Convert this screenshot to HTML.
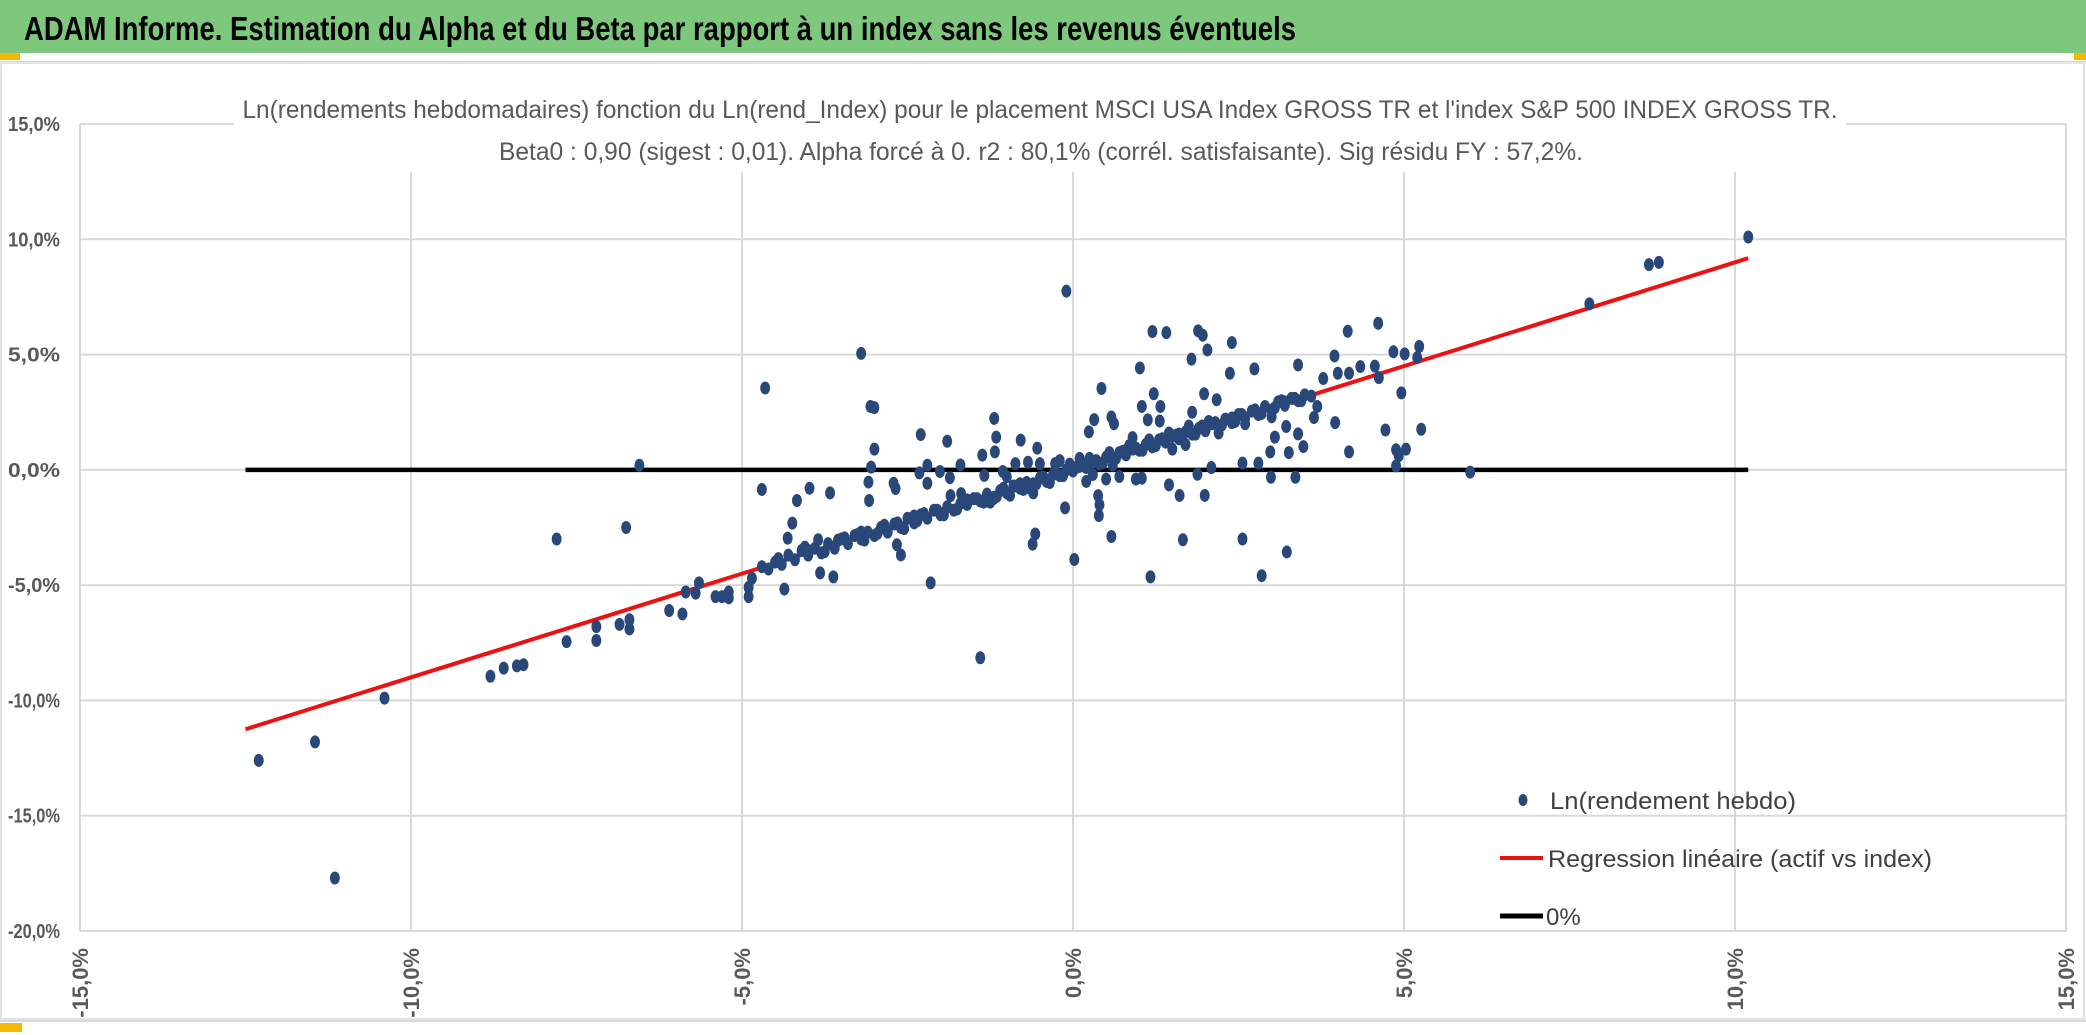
<!DOCTYPE html>
<html><head><meta charset="utf-8"><style>
html,body{margin:0;padding:0;background:#fff;}
svg{display:block;font-family:"Liberation Sans",sans-serif;}
</style></head><body>
<svg id="chart" width="2086" height="1035" viewBox="0 0 2086 1035">
<rect x="0" y="0" width="2086" height="1035" fill="#fff"/>
<rect x="0" y="0" width="2086" height="53" fill="#7ec87e"/>
<text x="24" y="40" font-size="33" font-weight="bold" fill="#000" textLength="1272" lengthAdjust="spacingAndGlyphs">ADAM Informe. Estimation du Alpha et du Beta par rapport à un index sans les revenus éventuels</text>
<rect x="0" y="53" width="20" height="7" fill="#f5b800"/>
<rect x="2074" y="53" width="12" height="7" fill="#f5b800"/>
<rect x="0" y="61" width="2086" height="2" fill="#d9d9d9"/>
<rect x="1" y="63" width="2083" height="956" fill="none" stroke="#e2e2e2" stroke-width="2"/>
<rect x="0" y="1020" width="2086" height="2" fill="#d9d9d9"/>
<rect x="0" y="1023" width="22" height="9" fill="#f5b800"/>
<g id="grid"></g>
<rect x="234" y="68" width="1612" height="104" fill="#fff"/>
<text x="1040" y="118" font-size="25" fill="#595959" text-anchor="middle" textLength="1595" lengthAdjust="spacingAndGlyphs">Ln(rendements hebdomadaires) fonction du Ln(rend_Index) pour le placement MSCI USA Index GROSS TR et l'index S&amp;P 500 INDEX GROSS TR.</text>
<text x="1041" y="160" font-size="25" fill="#595959" text-anchor="middle" textLength="1084" lengthAdjust="spacingAndGlyphs">Beta0 : 0,90 (sigest : 0,01). Alpha forcé à 0. r2 : 80,1% (corrél. satisfaisante). Sig résidu FY : 57,2%.</text>
<g id="lines"></g>
<g id="points"></g>
<g id="legend">
<ellipse cx="1523" cy="800" rx="4.5" ry="6" fill="#2a4779"/>
<text x="1550" y="809" font-size="24" fill="#404040" textLength="246" lengthAdjust="spacingAndGlyphs">Ln(rendement hebdo)</text>
<line x1="1500" y1="858" x2="1543" y2="858" stroke="#ee1111" stroke-width="4"/>
<text x="1548" y="867" font-size="24" fill="#404040" textLength="384" lengthAdjust="spacingAndGlyphs">Regression linéaire (actif vs index)</text>
<line x1="1500" y1="916" x2="1543" y2="916" stroke="#000" stroke-width="5"/>
<text x="1546" y="925" font-size="24" fill="#404040">0%</text>
</g>
</svg>
<script>
const xTicks = [-15, -10, -5, 0, 5, 10, 15];
const yTicks = [-20, -15, -10, -5, 0, 5, 10, 15];
const xTickLabels = ["-15,0%", "-10,0%", "-5,0%", "0,0%", "5,0%", "10,0%", "15,0%"];
const yTickLabels = ["-20,0%", "-15,0%", "-10,0%", "-5,0%", "0,0%", "5,0%", "10,0%", "15,0%"];
const beta = 0.90;
const lineRange = [-12.5, 10.2];
const ptsX = [10.2,8.7,8.85,7.8,-0.1,-3.2,-4.65,-3.0,-3.0,-6.55,-4.7,-7.8,-6.75,-12.3,-11.45,-11.15,-10.4,-8.8,-8.6,-8.4,-8.3,-7.65,-7.2,-7.2,-6.85,-6.7,-6.7,-6.1,-5.9,-5.85,-5.7,-5.65,-5.4,-5.3,-5.2,-5.2,-4.9,-4.9,-4.85,-4.7,-1.4,-2.15,6.0,
-3.06,-3.05,-3.09,-3.08,-3.98,-4.17,-3.67,-4.24,-4.31,-3.85,-4.36,-2.3,-1.9,-1.19,-1.16,-1.18,-1.37,-0.79,-0.54,-0.57,-0.61,-0.12,0.02,0.43,0.58,0.62,0.32,0.24,1.01,1.2,1.41,1.89,1.96,2.03,1.79,2.4,1.22,1.04,1.32,1.31,1.13,0.58,0.39,0.4,0.38,0.7,0.95,1.04,1.17,1.66,1.61,1.45,1.99,1.88,2.09,2.56,2.85,3.23,2.99,3.36,2.56,2.8,2.98,3.26,3.48,3.4,3.05,3.22,3.64,3.69,3.78,3.96,4.17,3.95,4.15,4.61,4.34,4.56,4.62,4.0,4.17,4.84,5.01,5.23,5.2,4.96,4.72,5.26,4.88,4.92,5.03,4.88,3.4,2.74,2.37,1.98,1.8,2.17,-3.82,-3.62,-2.6,-2.66,
-2.71,-2.68,-2.2,-2.01,-1.86,-1.7,-1.85,-1.69,-2.2,-2.32,-1.34,-1.06,-0.87,-0.68,-0.5,-0.27,
-4.6,-4.5,-4.4,-4.3,-4.2,-4.1,-4.0,-3.9,-3.8,-3.7,-3.6,-3.5,-3.4,-3.3,-3.2,-3.1,-3.0,-2.9,-2.8,-2.7,-2.6,-2.5,-2.4,-2.3,-2.2,-2.1,-2.0,-1.9,-1.8,-1.7,-1.6,-1.5,-1.4,-1.3,-1.2,-1.1,-1.0,-0.9,-0.8,-0.7,-0.6,-0.5,-0.4,-0.3,-0.2,-0.1,0.0,0.1,0.2,0.3,0.4,0.5,0.6,0.7,0.8,0.9,1.0,1.1,1.2,1.3,1.4,1.5,1.6,1.7,1.8,1.9,2.0,2.1,2.2,2.3,2.4,2.5,2.6,2.7,2.8,2.9,3.0,3.1,3.2,3.3,3.4,3.5,3.6,
-4.45,-4.05,-3.75,-3.45,-3.15,-2.85,-2.55,-2.25,-1.95,-1.65,-1.35,-1.05,-0.75,-0.45,-0.15,0.15,0.45,0.75,1.05,1.35,1.65,1.95,2.25,2.55,2.85,3.15,3.45,
-4.0,-3.6,-3.2,-2.8,-2.4,-2.0,-1.6,-1.2,-0.8,-0.4,0.0,0.4,0.8,1.2,1.6,2.0,2.4,2.8,3.2,
0.1,0.3,-0.2,0.6,0.9,1.5,2.2,2.6,3.0,-0.6,-1.0,1.7,0.2,0.5,
-3.55,-3.25,-2.95,-2.65,-2.35,-2.05,-1.75,-1.45,-1.15,-0.85,-0.55,-0.25,0.05,0.35,0.65,0.95,1.25,1.55,1.85,2.15,2.45,2.75,3.05,3.35,
-0.05,0.25,0.55,0.85,1.15,1.45,1.75,2.05,-0.35,-0.65,-0.95,-1.25];
const ptsY = [10.1,8.9,9.0,7.2,7.75,5.05,3.55,2.7,0.9,0.2,-0.85,-3.0,-2.5,-12.6,-11.8,-17.7,-9.9,-8.95,-8.6,-8.5,-8.45,-7.45,-7.4,-6.8,-6.7,-6.9,-6.5,-6.1,-6.25,-5.3,-5.35,-4.9,-5.5,-5.5,-5.3,-5.55,-5.1,-5.5,-4.7,-4.2,-8.15,-4.9,-0.1,
2.75,0.12,-0.53,-1.33,-0.8,-1.33,-1.0,-2.31,-2.96,-3.03,-5.17,1.53,1.24,2.23,1.42,0.78,0.64,1.29,0.94,-2.78,-3.22,-1.65,-3.89,3.53,2.29,2.0,2.18,1.65,4.42,6.0,5.95,6.03,5.84,5.2,4.8,5.52,3.3,2.75,2.75,2.12,2.17,-2.89,-1.98,-1.51,-1.12,-0.29,-0.4,-0.36,-4.64,-3.03,-1.11,-0.65,-1.11,-0.19,0.1,-3.0,-4.59,-3.56,-0.32,-0.32,0.29,0.29,0.78,0.75,1.01,1.56,1.42,1.88,2.27,2.75,3.96,2.05,0.78,4.94,6.01,6.36,4.48,4.5,4.0,4.19,4.19,5.12,5.03,5.35,4.87,3.34,1.73,1.76,0.87,0.61,0.9,0.17,4.55,4.38,4.19,3.3,2.5,3.04,-4.47,-4.64,-3.69,-3.25,
-0.58,-0.81,0.2,-0.07,-0.34,0.21,-1.12,-1.03,-0.58,-0.13,-0.24,-0.07,0.27,0.33,0.27,0.27,
-4.3,-4.0,-4.1,-3.7,-3.9,-3.5,-3.7,-3.4,-3.6,-3.2,-3.4,-3.0,-3.2,-2.85,-3.0,-2.7,-2.85,-2.5,-2.7,-2.35,-2.5,-2.1,-2.3,-1.95,-2.1,-1.75,-1.9,-1.6,-1.75,-1.45,-1.5,-1.25,-1.35,-1.05,-1.2,-0.9,-1.0,-0.7,-0.8,-0.55,-0.6,-0.35,-0.45,-0.2,-0.25,0.0,-0.05,0.15,0.1,0.35,0.3,0.55,0.45,0.75,0.65,0.9,0.85,1.1,1.0,1.3,1.2,1.45,1.35,1.65,1.55,1.8,1.7,2.0,1.9,2.2,2.05,2.4,2.25,2.55,2.45,2.75,2.6,2.95,2.8,3.1,3.0,3.25,3.2,
-3.85,-3.35,-3.55,-2.95,-3.05,-2.4,-2.55,-1.9,-1.95,-1.3,-1.4,-0.8,-0.85,-0.3,-0.25,0.25,0.3,0.8,0.85,1.35,1.4,1.9,1.95,2.4,2.45,3.0,3.0,
-3.5,-3.35,-2.7,-2.65,-2.0,-1.95,-1.3,-1.25,-0.6,-0.5,0.1,0.25,0.85,1.0,1.55,1.7,2.25,2.4,2.95,
0.5,-0.2,0.4,0.2,1.4,0.9,1.6,2.0,2.3,-1.0,-0.3,1.1,-0.5,-0.4,
-3.05,-2.8,-2.75,-2.3,-2.2,-1.75,-1.7,-1.25,-1.15,-0.7,-0.6,-0.15,0.1,0.4,0.5,0.95,1.05,1.5,1.55,2.05,2.1,2.6,2.7,3.1,
0.25,0.5,0.75,1.05,1.3,1.6,1.9,2.1,-0.55,-0.8,-1.1,-1.4];

const NS = "http://www.w3.org/2000/svg";
const X0 = 80, PXPCT = 66.2, Y0 = 931, PYPCT = 23.057;
function sx(v){ return X0 + (v + 15) * PXPCT; }
function sy(v){ return Y0 - (v + 20) * PYPCT; }
function mk(tag, attrs, parent){
  const e = document.createElementNS(NS, tag);
  for (const k in attrs) e.setAttribute(k, attrs[k]);
  parent.appendChild(e);
  return e;
}
const grid = document.getElementById('grid');
yTicks.forEach((t, i) => {
  const l = mk('line', {x1: sx(-15), x2: sx(15), y1: sy(t), y2: sy(t), stroke: '#d9d9d9', 'stroke-width': 2}, grid);
  
  
  const tx = mk('text', {x: 60, y: sy(t) + 7, 'font-size': 20, fill: '#595959', 'text-anchor': 'end', 'font-weight': 'bold', textLength: 52, lengthAdjust: 'spacingAndGlyphs'}, grid);
  tx.textContent = yTickLabels[i];
  
  
});
xTicks.forEach((t, i) => {
  const l = mk('line', {x1: sx(t), x2: sx(t), y1: sy(15), y2: sy(-20), stroke: '#d9d9d9', 'stroke-width': 2}, grid);
  
  
  const tx = mk('text', {x: 0, y: 0, 'font-size': 22, fill: '#595959', 'text-anchor': 'end', 'font-weight': 'bold', transform: 'translate(' + (sx(t) + 8) + ',948) rotate(-90)'}, grid);
  tx.textContent = xTickLabels[i];
  
  
});
const lines = document.getElementById('lines');
const zl = mk('line', {x1: sx(lineRange[0]), x2: sx(lineRange[1]), y1: sy(0), y2: sy(0), stroke: '#000', 'stroke-width': 4.5}, lines);


const pts = document.getElementById('points');
for (let i = 0; i < ptsX.length; i++) {
  const c = mk('ellipse', {cx: sx(ptsX[i]), cy: sy(ptsY[i]), rx: 5, ry: 6.5, fill: '#2a4779'}, pts);
  
  
}
const rl = mk('line', {x1: sx(lineRange[0]), x2: sx(lineRange[1]), y1: sy(lineRange[0] * beta), y2: sy(lineRange[1] * beta), stroke: '#ee1111', 'stroke-width': 4}, lines);


</script>
</body></html>
